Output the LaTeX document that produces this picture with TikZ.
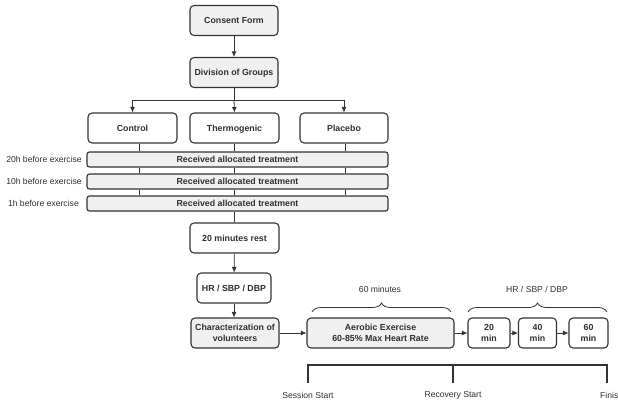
\documentclass[tikz,border=0pt]{standalone}
\usepackage{fontspec}
\setmainfont{Liberation Sans}
\usetikzlibrary{arrows.meta,decorations.pathreplacing}
\definecolor{ln}{HTML}{333333}
\definecolor{gf}{HTML}{F0F0F0}
\definecolor{tx}{HTML}{303030}
\tikzset{
  box/.style={draw=ln, line width=1.1pt, rounded corners=4pt, fill=white,
    minimum height=30pt, align=center, inner sep=1pt, text=tx,
    font=\fontsize{8.8}{10.5}\selectfont\bfseries},
  one/.style={text height=7.3pt, text depth=1.2pt},
  gbox/.style={box, fill=gf},
  bar/.style={draw=ln, line width=1.1pt, rounded corners=2.5pt, fill=gf,
    minimum width=301pt, minimum height=15pt, inner sep=0pt, text=tx,
    text height=7.3pt, text depth=1.2pt,
    font=\fontsize{8.8}{10.5}\selectfont\bfseries},
  lab/.style={text=tx, inner sep=0pt, font=\fontsize{8.6}{10}\selectfont},
  conn/.style={draw=ln, line width=0.8pt},
  arr/.style={conn, -{Latex[length=5.5pt,width=5pt]}},
  brc/.style={draw=ln, line width=0.8pt, decorate,
    decoration={brace, amplitude=9pt}},
  tl/.style={draw=ln, line width=1.4pt}
}
\begin{document}
\begin{tikzpicture}[x=1pt,y=-1pt]
\useasboundingbox (0,0) rectangle (618,405);
\clip (0,0) rectangle (618,405);
% nodes
\node[gbox, one, minimum width=88pt] (consent) at (234,20.5) {Consent Form};
\node[gbox, one, minimum width=88pt] (division) at (234,72.5) {Division of Groups};
\node[box, one, minimum width=89pt] (control) at (132.5,128) {Control};
\node[box, one, minimum width=89pt] (thermo) at (234.5,128) {Thermogenic};
\node[box, one, minimum width=88pt] (placebo) at (344,128) {Placebo};
\node[bar] (bar1) at (237.5,159.5) {Received allocated treatment};
\node[bar] (bar2) at (237.5,181.5) {Received allocated treatment};
\node[bar] (bar3) at (237.5,203.5) {Received allocated treatment};
\node[lab, anchor=east] (l1) at (82,159.5) {20h before exercise};
\node[lab, anchor=east] (l2) at (82,181.5) {10h before exercise};
\node[lab, anchor=east] (l3) at (79,203.5) {1h before exercise};
\node[box, one, minimum width=89pt] (rest) at (234.5,238) {20 minutes rest};
\node[box, one, minimum width=74pt] (hr) at (234,288) {HR / SBP / DBP};
\node[gbox, minimum width=88pt] (char) at (235,333) {Characterization of\\volunteers};
\node[gbox, minimum width=147pt] (aer) at (380.5,333) {Aerobic Exercise\\60-85\% Max Heart Rate};
\node[box, minimum width=42pt] (m20) at (489,333) {20\\min};
\node[box, minimum width=38pt] (m40) at (537.5,333) {40\\min};
\node[box, minimum width=39pt] (m60) at (588.5,333) {60\\min};
% connectors
\draw[arr] (consent) -- (division);
\coordinate (sp) at (234,100);
\draw[conn] (division) -- (sp);
\draw[arr] (sp) -| (control.north);
\draw[arr] (sp) -- (thermo.north);
\draw[arr] (sp) -| (placebo.north);
\coordinate (xa) at (139,0);
\coordinate (xb) at (234,0);
\coordinate (xc) at (345,0);
\draw[conn] (control.south -| xa) -- (bar1.north -| xa);
\draw[conn] (thermo.south -| xb) -- (bar1.north -| xb);
\draw[conn] (placebo.south -| xc) -- (bar1.north -| xc);
\draw[conn] (bar1.south -| xa) -- (bar2.north -| xa);
\draw[conn] (bar1.south -| xb) -- (bar2.north -| xb);
\draw[conn] (bar1.south -| xc) -- (bar2.north -| xc);
\draw[conn] (bar2.south -| xa) -- (bar3.north -| xa);
\draw[conn] (bar2.south -| xb) -- (bar3.north -| xb);
\draw[conn] (bar2.south -| xc) -- (bar3.north -| xc);
\draw[conn] (bar3.south -| xb) -- (rest.north -| xb);
\draw[arr] (rest) -- (hr);
\draw[arr] (hr) -- (hr |- char.north);
\draw[arr] (char) -- (aer);
\draw[arr] (aer) -- (m20);
\draw[arr] (m20) -- (m40);
\draw[arr] (m40) -- (m60);
% braces
\coordinate (ba1) at (312,312);
\coordinate (ba2) at (451,312);
\coordinate (bb1) at (468,312);
\coordinate (bb2) at (607,312);
\draw[brc] (ba1) -- (ba2);
\draw[brc] (bb1) -- (bb2);
\node[lab] (b1) at (380,289) {60 minutes};
\node[lab] (b2) at (537,289) {HR / SBP / DBP};
% timeline
\coordinate (t1) at (308,383);
\coordinate (t2) at (453,383);
\coordinate (t3) at (607,383);
\coordinate (tt) at (453,365);
\draw[tl] (t1) |- (tt) -| (t3);
\draw[tl] (t2) -- (tt);
\node[lab] (s1) at (308,395) {Session Start};
\node[lab] (s2) at (453,395) {Recovery Start};
\node[lab, anchor=west] (s3) at (600,395) {Finish};
\end{tikzpicture}
\end{document}
